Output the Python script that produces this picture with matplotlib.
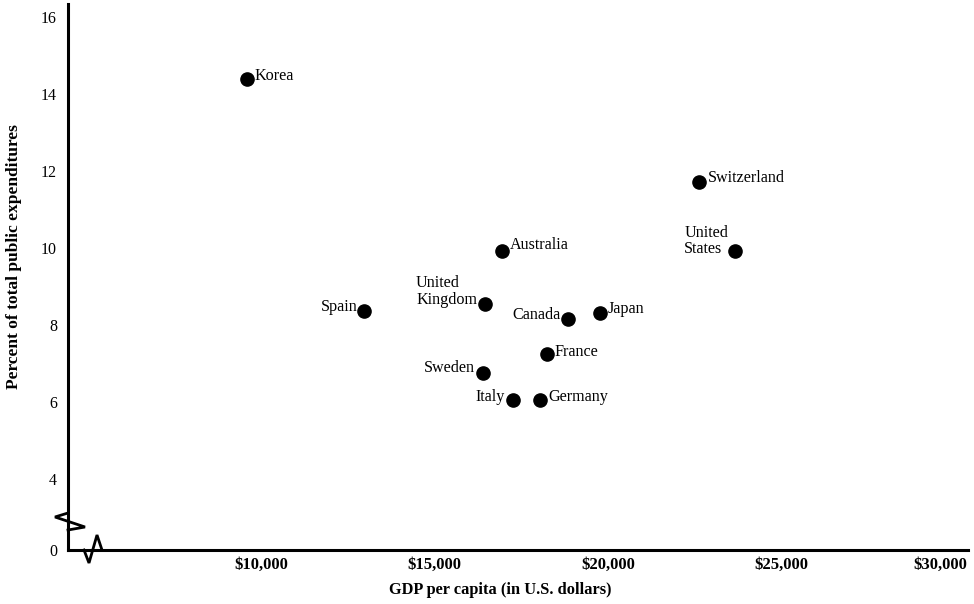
import matplotlib
matplotlib.use("Agg")
import matplotlib.pyplot as plt
from matplotlib.lines import Line2D
from matplotlib.transforms import ScaledTranslation

plt.rcParams['font.family'] = ['Liberation Serif', 'DejaVu Serif']

# donnees
pays = ['Korea', 'Switzerland', 'United\nStates', 'Australia', 'United\nKingdom', 'Spain',
        'Canada', 'Japan', 'France', 'Sweden', 'Italy', 'Germany']
pib = [9590, 22630, 23660, 16940, 16455, 12980, 18855, 19770, 18235, 16405, 17270, 18040]
depenses = [14.39, 11.71, 9.92, 9.93, 8.54, 8.36, 8.15, 8.32, 7.25, 6.75, 6.05, 6.05]

x_ticks = [10000, 15000, 20000, 25000, 30000]
x_tick_labels = ['\\$10,000', '\\$15,000', '\\$20,000', '\\$25,000', '\\$30,000']
y_ticks = [4, 6, 8, 10, 12, 14, 16]

# placement des etiquettes (decalage en pixels, alignement)
placement = {
    'Korea': (8, 3, 'left'),
    'Switzerland': (9, 4, 'left'),
    'United\nStates': (-7, 10, 'right'),
    'Australia': (8, 6, 'left'),
    'United\nKingdom': (-8, 13, 'right'),
    'Spain': (-7, 4, 'right'),
    'Canada': (-8, 4, 'right'),
    'Japan': (8, 4, 'left'),
    'France': (8, 2, 'left'),
    'Sweden': (-8, 5, 'right'),
    'Italy': (-8, 3, 'right'),
    'Germany': (8, 3, 'left'),
}

W, H = 974, 604
fig = plt.figure(figsize=(W / 100, H / 100), dpi=100)
# axes : spine gauche x=68 px, bas y=550 px, haut y=4 px, droite x=968 px
ax = fig.add_axes([68 / W, (H - 550) / H, 900 / W, 546 / H])

px_x = 173.5 / 5000      # pixels par dollar
px_y = 38.5              # pixels par point
ax.set_xlim(10000 - (261 - 68) / px_x, 10000 + (968 - 261) / px_x)
y_bas = 16 - (550 - 17) / px_y
ax.set_ylim(y_bas, 16 + (17 - 4) / px_y)

ax.plot(pib, depenses, 'o', color='black', markersize=9.5, zorder=3)

for nom, x, y in zip(pays, pib, depenses):
    dx, dy, ha = placement[nom]
    ax.annotate(nom, (x, y), xytext=(dx * 0.72, dy * 0.72), textcoords='offset points',
                ha=ha, va='center', fontsize=11.6, multialignment='left',
                linespacing=1.05)

for cote in ['top', 'right']:
    ax.spines[cote].set_visible(False)
for cote in ['left', 'bottom']:
    ax.spines[cote].set_linewidth(2.2)

ax.set_xticks(x_ticks)
ax.set_xticklabels(x_tick_labels, fontsize=12, fontweight='bold')
ax.set_yticks([y_bas] + y_ticks)
ax.set_yticklabels(['0'] + [str(v) for v in y_ticks], fontsize=11.5)
ax.tick_params(axis='both', length=0)
ax.tick_params(axis='y', pad=8)
ax.tick_params(axis='x', pad=5)

# le dernier label est decale vers la gauche comme sur l'original
dernier = ax.get_xticklabels()[-1]
dernier.set_transform(dernier.get_transform() + ScaledTranslation(-0.15, 0, fig.dpi_scale_trans))

ax.set_xlabel('GDP per capita (in U.S. dollars)', fontsize=11.8, fontweight='bold')
ax.set_ylabel('Percent of total public expenditures', fontsize=12.5, fontweight='bold')
ax.yaxis.set_label_coords(-(68 - 22) / 900, (550 - 257) / 546)
ax.xaxis.set_label_coords((500 - 68) / 900, -(582 - 550) / 546)

# symboles de coupure d'axe (coordonnees en pixels de la figure)
def coupure(points):
    xs = [p[0] / W for p in points]
    ys = [(H - p[1]) / H for p in points]
    fig.add_artist(Line2D(xs, ys, color='black', linewidth=2.0, solid_joinstyle='miter'))

coupure([(68, 513), (55, 517), (85, 527), (68, 530)])
coupure([(84, 550), (89, 563), (97, 535), (102, 550)])

fig.savefig('out.png', dpi=100)
